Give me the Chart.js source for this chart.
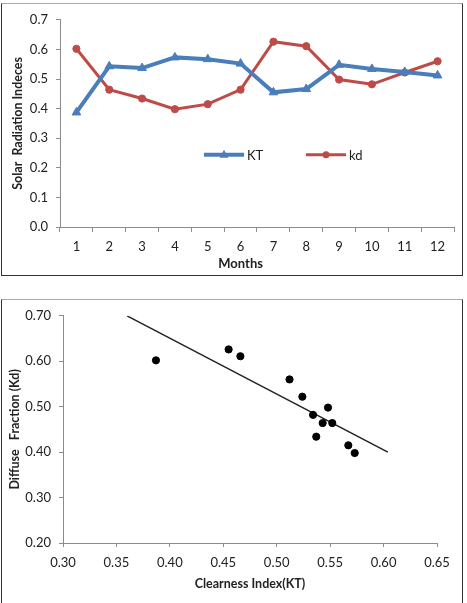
<!DOCTYPE html>
<html>
<head>
<meta charset="utf-8">
<script src="https://cdn.jsdelivr.net/npm/chart.js@4.4.0/dist/chart.umd.min.js"></script>
<style>
  body { margin: 0; background: #fff; width: 467px; height: 603px; overflow: hidden; position: relative; }
  .box { position: absolute; background: #fff; border: 1.5px solid #333; border-top-color: #aaa; }
  #box1 { left: 1px; top: 3px; width: 460px; height: 271px; }
  #box2 { left: 1px; top: 299px; width: 460px; height: 310px; }
  canvas { display: block; }
</style>
</head>
<body>
<div class="box" id="box1"><canvas id="graficoMeses"></canvas></div>
<div class="box" id="box2"><canvas id="graficoDisp"></canvas></div>
<script>
// dados
const meses = ["1", "2", "3", "4", "5", "6", "7", "8", "9", "10", "11", "12"];
const kt = [0.387, 0.543, 0.537, 0.573, 0.567, 0.552, 0.455, 0.466, 0.548, 0.534, 0.524, 0.512];
const kd = [0.602, 0.464, 0.434, 0.398, 0.415, 0.464, 0.626, 0.611, 0.498, 0.482, 0.522, 0.560];
// linha de tendencia (pontos extremos)
const tendX = [0.36, 0.604];
const tendY = [0.70, 0.40];

const azul = "#4a7ebb";
const vermelho = "#be4b48";
const cinza = "#8c8c8c";
const fonte = "Lato, 'Open Sans', sans-serif";

Chart.defaults.font.family = fonte;
Chart.defaults.color = "#222";
Chart.defaults.animation = false;

function eixo(extra) {
    return Object.assign({
        border: { color: cinza, width: 1 },
        grid: { drawOnChartArea: false, color: cinza, tickLength: 4, tickColor: cinza },
    }, extra);
}

// legenda desenhada dentro da area do grafico + titulo "Months" sob o mes 6
const legendaDentro = {
    id: "legendaDentro",
    afterDatasetsDraw(chart) {
        const ctx = chart.ctx;
        const a = chart.chartArea;
        const y = a.top + 135;
        const itens = [
            { x: a.left + 144, txt: "KT", cor: azul, lw: 4, forma: "tri" },
            { x: a.left + 246, txt: "kd", cor: vermelho, lw: 3, forma: "circ" }
        ];
        ctx.save();
        itens.forEach(it => {
            ctx.strokeStyle = it.cor;
            ctx.fillStyle = it.cor;
            ctx.lineWidth = it.lw;
            ctx.beginPath();
            ctx.moveTo(it.x, y);
            ctx.lineTo(it.x + 40, y);
            ctx.stroke();
            const cx = it.x + 20;
            ctx.beginPath();
            if (it.forma === "tri") {
                ctx.moveTo(cx, y - 5);
                ctx.lineTo(cx + 4.5, y + 3);
                ctx.lineTo(cx - 4.5, y + 3);
                ctx.closePath();
            } else {
                ctx.arc(cx, y, 3.5, 0, Math.PI * 2);
            }
            ctx.fill();
            ctx.fillStyle = "#222";
            ctx.font = "13px " + fonte;
            ctx.textBaseline = "middle";
            ctx.fillText(it.txt, it.x + 43, y + 1);
        });
        // titulo do eixo x
        const sx = chart.scales.x;
        ctx.fillStyle = "#222";
        ctx.font = "bold 13px " + fonte;
        ctx.textAlign = "center";
        ctx.textBaseline = "middle";
        ctx.fillText("Months", sx.getPixelForValue(5), a.bottom + 37);
        ctx.restore();
    }
};

function criarGraficoMeses() {
    const cv = document.getElementById("graficoMeses");
    cv.width = 460; cv.height = 271;
    new Chart(cv, {
        type: "line",
        data: {
            labels: meses,
            datasets: [{
                label: "KT",
                data: kt,
                borderColor: azul,
                backgroundColor: azul,
                borderWidth: 4,
                pointStyle: "triangle",
                pointRadius: 5,
                pointBorderWidth: 1,
                tension: 0
            }, {
                label: "kd",
                data: kd,
                borderColor: vermelho,
                backgroundColor: vermelho,
                borderWidth: 3,
                pointStyle: "circle",
                pointRadius: 3.6,
                pointBorderWidth: 1,
                tension: 0
            }]
        },
        options: {
            responsive: false,
            layout: { padding: { left: 0, right: 8, top: 14, bottom: 4 } },
            plugins: { legend: { display: false }, tooltip: { enabled: false } },
            scales: {
                x: eixo({
                    offset: true,
                    grid: { drawOnChartArea: false, color: cinza, tickLength: 5, offset: true },
                    ticks: { font: { size: 13 }, padding: 7, maxRotation: 0 },
                    afterFit: s => { s.height = 44; }
                }),
                y: eixo({
                    min: 0, max: 0.7,
                    ticks: { stepSize: 0.1, font: { size: 13 }, padding: 8, callback: v => v.toFixed(1) },
                    title: { display: true, text: "Solar  Radiation Indeces", font: { size: 12.5, weight: "bold" }, padding: { top: 8, bottom: 0 } },
                    afterFit: s => { s.width = 58; }
                })
            }
        },
        plugins: [legendaDentro]
    });
}

function criarGraficoDisp() {
    const cv = document.getElementById("graficoDisp");
    cv.width = 460; cv.height = 306;
    const pontos = kt.map((v, i) => ({ x: v, y: kd[i] }));
    const tend = tendX.map((v, i) => ({ x: v, y: tendY[i] }));
    new Chart(cv, {
        type: "scatter",
        data: {
            datasets: [{
                label: "Kd",
                data: pontos,
                backgroundColor: "#000",
                borderColor: "#000",
                pointRadius: 3.6
            }, {
                label: "tendencia",
                type: "line",
                data: tend,
                borderColor: "#222",
                borderWidth: 1.5,
                pointRadius: 0,
                showLine: true
            }]
        },
        options: {
            responsive: false,
            layout: { padding: { left: 0, right: 25, top: 11, bottom: 15 } },
            plugins: { legend: { display: false }, tooltip: { enabled: false } },
            scales: {
                x: eixo({
                    min: 0.3, max: 0.65,
                    grid: { drawOnChartArea: false, color: cinza, tickLength: 4 },
                    ticks: { stepSize: 0.05, font: { size: 13 }, padding: 8, callback: v => v.toFixed(2) },
                    title: { display: true, text: "Clearness Index(KT)", font: { size: 12.5, weight: "bold" }, padding: { top: 4, bottom: 0 } },
                    afterFit: s => { s.height = 48; }
                }),
                y: eixo({
                    min: 0.2, max: 0.7,
                    ticks: { stepSize: 0.1, font: { size: 13 }, padding: 8, callback: v => v.toFixed(2) },
                    title: { display: true, text: "Diffuse   Fraction (Kd)", font: { size: 12.5, weight: "bold" }, padding: { top: 5, bottom: 0 } },
                    afterFit: s => { s.width = 61; }
                })
            }
        }
    });
}

criarGraficoMeses();
criarGraficoDisp();
</script>
</body>
</html>
